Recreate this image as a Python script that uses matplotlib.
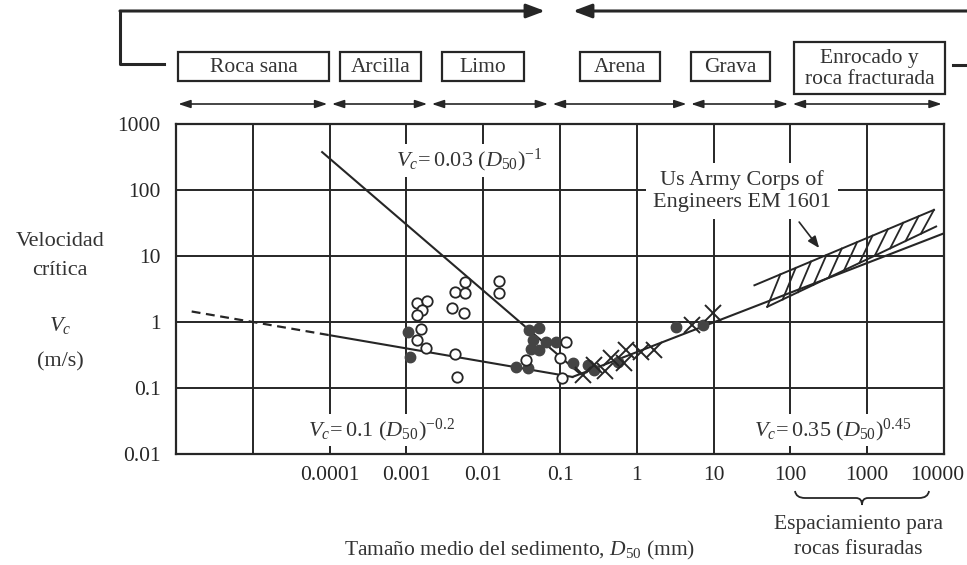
import numpy as np
import matplotlib.pyplot as plt
from matplotlib.patches import Rectangle, PathPatch
from matplotlib.path import Path
from matplotlib.transforms import ScaledTranslation

plt.rcParams['font.family'] = ['Liberation Serif', 'DejaVu Serif']
plt.rcParams['mathtext.fontset'] = 'custom'
plt.rcParams['mathtext.rm'] = 'Liberation Serif'
plt.rcParams['mathtext.it'] = 'Liberation Serif:italic'

W, H = 967, 565
INK = '#262626'

# -- measured points: D50 (mm), Vc (m/s) --
open_d = [0.00137, 0.00188, 0.00161, 0.00137, 0.00157, 0.00137, 0.00178,
          0.00425, 0.00573, 0.00573, 0.00396, 0.00556, 0.00425, 0.0046,
          0.016, 0.016, 0.0356, 0.12, 0.0986, 0.107]
open_v = [1.92, 2.10, 1.52, 1.28, 0.77, 0.53, 0.40,
          2.88, 4.08, 2.72, 1.61, 1.38, 0.33, 0.148,
          4.23, 2.72, 0.27, 0.49, 0.28, 0.14]

fill_d = [0.00105, 0.00113, 0.039, 0.054, 0.045, 0.066, 0.089, 0.042,
          0.027, 0.038, 0.054, 0.147, 0.23, 0.28, 0.565, 3.2, 7.2]
fill_v = [0.71, 0.29, 0.76, 0.80, 0.53, 0.49, 0.49, 0.39,
          0.21, 0.20, 0.38, 0.24, 0.22, 0.19, 0.25, 0.85, 0.90]

cross_d = [0.198, 0.28, 0.38, 0.46, 0.69, 0.73, 1.14, 1.69, 5.3, 9.7]
cross_v = [0.157, 0.22, 0.18, 0.28, 0.24, 0.38, 0.35, 0.38, 0.90, 1.36]

# -- relations Vc = a * D50**b --
steep_a, steep_b = 0.03, -1.0
low_a, low_b = 0.1, -0.2
rise_a, rise_b = 0.35, 0.45

# US Army Corps EM 1601 band edges (D50, Vc)
band_top_d = [34, 7400]
band_top_v = [3.6, 50]
band_bot_d = [50, 7900]
band_bot_v = [1.7, 28]

# -- soil classes along the top --
soil_names = ['Roca sana', 'Arcilla', 'Limo', 'Arena', 'Grava',
              'Enrocado y\nroca fracturada']
soil_bounds = [1e-6, 1e-4, 0.002, 0.075, 4.75, 100, 1e4]

x_ticks = [1e-6, 1e-5, 1e-4, 1e-3, 1e-2, 1e-1, 1, 10, 100, 1000, 10000]
x_labels = ['', '', '0.0001', '0.001', '0.01', '0.1', '1', '10', '100',
            '1000', '10000']
y_ticks = [0.01, 0.1, 1, 10, 100, 1000]
y_labels = ['0.01', '0.1', '1', '10', '100', '1000']


def fx(x, y):
    """pixel position (from top-left) -> figure fraction"""
    return (x / W, 1 - y / H)


def power(a, b, d):
    return a * np.asarray(d, dtype=float) ** b


def main():
    fig = plt.figure(figsize=(W / 100, H / 100), dpi=100)
    ax = fig.add_axes([176 / W, 1 - 454 / H, 768 / W, 330 / H])
    ax.set_xscale('log')
    ax.set_yscale('log')
    ax.set_xlim(1e-6, 1e4)
    ax.set_ylim(0.01, 1000)
    ax.set_xticks(x_ticks, x_labels)
    ax.set_yticks(y_ticks, y_labels)
    ax.minorticks_off()
    ax.tick_params(length=0, labelsize=15.5, colors=INK)
    ax.tick_params(axis='x', pad=9)
    ax.tick_params(axis='y', pad=11)
    # last label sits a little left of its grid line
    last = ax.get_xticklabels()[-1]
    last.set_transform(last.get_transform() + ScaledTranslation(-7 / 100, 0, fig.dpi_scale_trans))
    ax.set_axisbelow(True)
    ax.grid(True, color=INK, lw=1.4)
    for s in ax.spines.values():
        s.set_color(INK)
        s.set_linewidth(1.6)

    # -- relation lines --
    d_sr = (steep_a / rise_a) ** (1 / (rise_b - steep_b))
    d_lr = (low_a / rise_a) ** (1 / (rise_b - low_b))
    d = [8e-5, d_sr]
    ax.plot(d, power(steep_a, steep_b, d), color=INK, lw=1.5, zorder=4)
    d = [1.6e-6, 1e-4]
    ax.plot(d, power(low_a, low_b, d), color=INK, lw=1.6, ls=(0, (4, 2.5)), zorder=4)
    d = [1e-4, d_lr]
    ax.plot(d, power(low_a, low_b, d), color=INK, lw=1.5, zorder=4)
    d = [d_lr, 10000]
    ax.plot(d, power(rise_a, rise_b, d), color=INK, lw=1.5, zorder=4)

    # -- hatched band --
    ax.plot(band_top_d, band_top_v, color=INK, lw=1.4, zorder=4)
    ax.plot(band_bot_d, band_bot_v, color=INK, lw=1.4, zorder=4)
    lt_d, lt_v = np.log10(band_top_d), np.log10(band_top_v)
    lb_d, lb_v = np.log10(band_bot_d), np.log10(band_bot_v)
    for lx in np.arange(lb_d[0], lb_d[1] - 0.1, 0.2):
        ly0 = np.interp(lx, lb_d, lb_v)
        lx1 = lx + 0.17
        ly1 = np.interp(lx1, lt_d, lt_v) if lx1 >= lt_d[0] else lt_v[0]
        ax.plot([10 ** lx, 10 ** lx1], [10 ** ly0, 10 ** ly1],
                color=INK, lw=1.3, zorder=4)

    # -- points --
    ax.plot(fill_d, fill_v, 'o', ms=7.5, color='#444444', mec='#444444', zorder=5)
    ax.plot(open_d, open_v, 'o', ms=7.5, mfc='white', mec=INK, mew=1.3, zorder=6)
    ax.plot(cross_d, cross_v, 'x', ms=12, mec=INK, mew=1.4, zorder=6)

    # -- equations --
    box = dict(facecolor='white', edgecolor='none', pad=2)
    ax.text(0.0066, 280, r'$V_c\!=0.03\ (D_{50})^{-1}$', ha='center', va='center',
            fontsize=16, color='#333333', bbox=box, zorder=3)
    ax.text(4.8e-4, 0.023, r'$V_c\!=0.1\ (D_{50})^{-0.2}$', ha='center', va='center',
            fontsize=16, color='#333333', bbox=box, zorder=3)
    ax.text(360, 0.023, r'$V_c\!=0.35\ (D_{50})^{0.45}$', ha='center', va='center',
            fontsize=16, color='#333333', bbox=box, zorder=3)
    ax.text(23.6, 96, 'Us Army Corps of\nEngineers EM 1601', ha='center',
            va='center', fontsize=16, color='#333333', linespacing=1.2,
            bbox=dict(facecolor='white', edgecolor='none', pad=5), zorder=3)
    ax.annotate('', xy=(237, 13.2), xytext=(130, 32.7),
                arrowprops=dict(arrowstyle='-|>,head_length=0.5,head_width=0.2',
                                color=INK, lw=1.2, shrinkA=0, shrinkB=0,
                                mutation_scale=14), zorder=4)

    # -- soil classes --
    box_px = [(178, 329), (340, 421), (442, 524), (580, 660), (691, 770), (794, 945)]
    for name, (x0, x1) in zip(soil_names, box_px):
        tall = '\n' in name
        y0, y1 = (42, 94) if tall else (52, 81)
        fig.patches.append(Rectangle(fx(x0, y1), (x1 - x0) / W, (y1 - y0) / H,
                                     transform=fig.transFigure, fill=False,
                                     edgecolor=INK, lw=1.6))
        fig.text(*fx((x0 + x1) / 2, (y0 + y1) / 2 + 1), name, ha='center',
                 va='center', fontsize=15.5, color='#333333', linespacing=1.1)
    for d0, d1 in zip(soil_bounds[:-1], soil_bounds[1:]):
        ax.annotate('', xy=(d1 / 10 ** 0.03, 1 - 104 / H),
                    xytext=(d0 * 10 ** 0.03, 1 - 104 / H),
                    xycoords=('data', 'figure fraction'),
                    arrowprops=dict(arrowstyle='<|-|>,head_length=0.6,head_width=0.2',
                                    color=INK, lw=1.2, shrinkA=0, shrinkB=0,
                                    mutation_scale=12), annotation_clip=False)

    # top bracket
    fig.add_artist(plt.Line2D([164 / W, 120 / W, 120 / W], [1 - 64 / H, 1 - 64 / H, 1 - 11 / H],
                              color=INK, lw=2.2, transform=fig.transFigure))
    fig.add_artist(plt.Line2D([953 / W, 1.0], [1 - 65 / H, 1 - 65 / H],
                              color=INK, lw=2.2, transform=fig.transFigure))
    for x0, x1 in [(120, 545), (975, 573)]:
        ax.annotate('', xy=fx(x1, 11), xytext=fx(x0, 11),
                    xycoords='figure fraction', textcoords='figure fraction',
                    arrowprops=dict(arrowstyle='-|>,head_length=0.8,head_width=0.3',
                                    color=INK, lw=2.2, shrinkA=0, shrinkB=0,
                                    mutation_scale=14), annotation_clip=False)

    # -- axis titles --
    fig.text(*fx(60, 242), 'Velocidad', ha='center', va='center', fontsize=16, color='#333333')
    fig.text(*fx(60, 270), 'crítica', ha='center', va='center', fontsize=16, color='#333333')
    fig.text(*fx(60, 325), r'$V_c$', ha='center', va='center', fontsize=16, color='#333333')
    fig.text(*fx(60, 362), '(m/s)', ha='center', va='center', fontsize=16, color='#333333')
    fig.text(*fx(520, 550), r'Tamaño medio del sedimento, $D_{50}$ (mm)', ha='center',
             va='center', fontsize=15.5, color='#333333')

    # brace under the rock spacing range
    pts = [fx(795, 491), fx(796, 498), fx(805, 498), fx(856, 498), fx(862, 498),
           fx(862, 505), fx(862, 498), fx(868, 498), fx(919, 498), fx(928, 498), fx(929, 491)]
    codes = [Path.MOVETO, Path.CURVE3, Path.CURVE3, Path.LINETO, Path.CURVE3, Path.CURVE3,
             Path.CURVE3, Path.CURVE3, Path.LINETO, Path.CURVE3, Path.CURVE3]
    fig.patches.append(PathPatch(Path(pts, codes), fill=False, edgecolor=INK, lw=1.3,
                                 transform=fig.transFigure))
    fig.text(*fx(858, 525), 'Espaciamiento para', ha='center', va='center',
             fontsize=15.5, color='#333333')
    fig.text(*fx(858, 550), 'rocas fisuradas', ha='center', va='center',
             fontsize=15.5, color='#333333')

    plt.savefig('out.png', dpi=100)
    plt.close('all')


if __name__ == '__main__':
    main()
